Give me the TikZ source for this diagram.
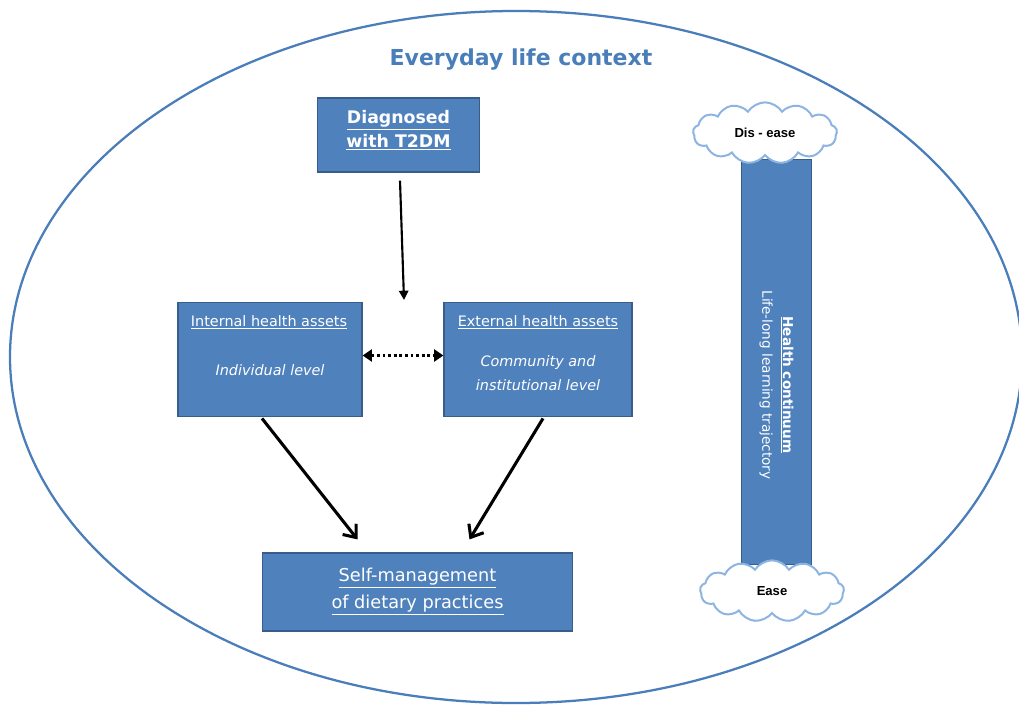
\documentclass[tikz,border=0pt]{standalone}
\usepackage{fontspec}
\setmainfont{DejaVu Sans}
\newfontfamily\cloudfont{Liberation Sans}
\usetikzlibrary{shapes.symbols,arrows.meta,calc}
\definecolor{boxblue}{RGB}{79,129,189}
\definecolor{boxedge}{RGB}{56,93,138}
\definecolor{ringblue}{RGB}{74,126,187}
\definecolor{titleblue}{RGB}{74,126,187}
\definecolor{cloudedge}{RGB}{141,180,226}
\tikzset{
  assetbox/.style={draw=boxedge, fill=boxblue, line width=0.9pt, text=white, align=center, inner sep=0pt},
  puff/.style={cloud, cloud puffs=13, cloud puff arc=115, aspect=2.4, draw=cloudedge, line width=1.5pt, fill=white,
    minimum width=108pt, minimum height=46pt, inner sep=0pt, font=\cloudfont\bfseries\fontsize{9.8}{11}\selectfont},
  flow/.style={line width=1.6pt, -{Triangle[length=7pt,width=7pt]}},
  barb/.style={line width=2.3pt, -{Straight Barb[length=8pt,width=13pt,line width=2.3pt]}},
  link/.style={line width=2.2pt, dotted, {Triangle[length=7pt,width=9pt]}-{Triangle[length=7pt,width=9pt]}}
}
\begin{document}
\begin{tikzpicture}[x=0.75pt,y=-0.75pt]
\useasboundingbox (0,0) rectangle (1019,706);
\fill[white] (0,0) rectangle (1019,706);

% outer context ring
\draw[ringblue, line width=1.7pt] (516,357) ellipse [x radius=506, y radius=346];
\node[text=titleblue, font=\bfseries\fontsize{16.5}{19}\selectfont] (title) at (521,60) {Everyday life context};

% boxes
\node[assetbox, minimum width=122pt, minimum height=55.5pt] (diag) at (398.5,135) {};
\node[text=white, align=center, font=\bfseries\fontsize{13}{18}\selectfont] (diagT) at (398.5,130)
  {\underline{Diagnosed}\\\underline{with T2DM}};
\node[assetbox, minimum width=138pt, minimum height=86pt] (int) at (270,359.5) {};
\node[text=white, font=\fontsize{10.8}{12}\selectfont] (intT) at (269,322) {\underline{Internal health assets}};
\node[text=white, font=\itshape\fontsize{10.8}{12}\selectfont] (intL) at (270,370) {Individual level};
\node[assetbox, minimum width=141pt, minimum height=86pt] (ext) at (538,359.5) {};
\node[text=white, font=\fontsize{10.8}{12}\selectfont] (extT) at (538,322) {\underline{External health assets}};
\node[text=white, font=\itshape\fontsize{10.8}{18}\selectfont, align=center] (extL) at (538,373) {Community and\\institutional level};
\node[assetbox, minimum width=233pt, minimum height=58.5pt] (self) at (417.5,592) {};
\node[text=white, align=center, font=\fontsize{13.3}{20.5}\selectfont] (selfT) at (417.5,591.5)
  {\underline{Self-management}\\\underline{of dietary practices}};

% health continuum bar
\node[assetbox, minimum width=53pt, minimum height=304pt] (bar) at (776.5,362) {};
\node[text=white, rotate=-90, align=center, font=\fontsize{10.2}{15.5}\selectfont] (barT) at (776.5,385)
  {\textbf{\underline{Health continuum}}\\Life-long learning trajectory};
\node[puff] (dis) at (765,133) {Dis - ease};
\node[puff] (ease) at (772,591) {Ease};

% connectors
\coordinate (dEnd) at (404,300);
\draw[flow] ($(diag.south)+(1.5,8)$) -- (dEnd);
\draw[link] ([yshift=3pt]int.east) -- ([yshift=3pt]ext.west);
\draw[barb] ($(int.south)+(-8,1)$) -- ($(self.north)+(-60,-13)$);
\draw[barb] ($(ext.south)+(5,1)$) -- ($(self.north)+(52,-13)$);
\end{tikzpicture}
\end{document}
